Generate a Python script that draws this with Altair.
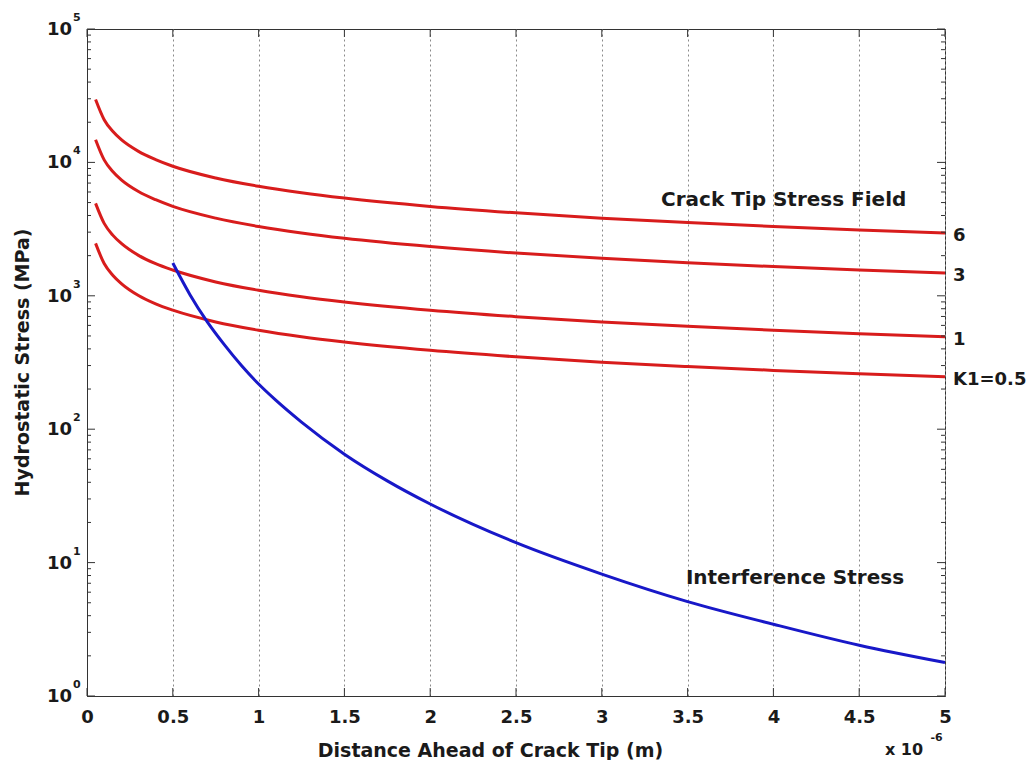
import altair as alt
import pandas as pd

# ---- data ----
x_pts = [0.05, 0.1, 0.15, 0.2, 0.3, 0.4, 0.5, 0.75, 1, 1.25, 1.5, 2, 2.5, 3, 3.5, 4, 4.5, 5]
k6 = [29600, 20900, 17100, 14800, 12100, 10500, 9360, 7640, 6620, 5920, 5400, 4680, 4190, 3820, 3540, 3310, 3120, 2960]
k3 = [14800, 10450, 8550, 7400, 6050, 5250, 4680, 3820, 3310, 2960, 2700, 2340, 2090, 1910, 1770, 1655, 1560, 1480]
k1 = [4930, 3490, 2850, 2470, 2010, 1740, 1560, 1270, 1100, 985, 900, 780, 698, 637, 590, 552, 520, 493]
k05 = [2470, 1745, 1425, 1235, 1005, 870, 780, 637, 552, 493, 450, 390, 349, 318, 295, 276, 260, 247]

blue_x = [0.5, 0.6, 0.7, 0.8, 0.9, 1.0, 1.1, 1.25, 1.5, 1.75, 2.0, 2.5, 3.0, 3.5, 4.0, 4.5, 5.0]
blue_v = [1760, 1020, 640, 430, 300, 218, 165, 113, 65, 41, 27.5, 14.1, 8.2, 5.1, 3.45, 2.4, 1.78]

curve_names = ["6", "3", "1", "K1=0.5"]
curve_vals = [k6, k3, k1, k05]

x_ticks = [0, 0.5, 1, 1.5, 2, 2.5, 3, 3.5, 4, 4.5, 5]
y_major = [1, 10, 100, 1000, 10000, 100000]
y_exps = ["0", "1", "2", "3", "4", "5"]
y_minor = [m * 10 ** e for e in range(0, 5) for m in range(2, 10)]

# ---- tables ----
rows = []
for name, vals in zip(curve_names, curve_vals):
    for xv, v in zip(x_pts, vals):
        rows.append({"x": xv, "v": v, "K": name})
red_df = pd.DataFrame(rows)
blue_df = pd.DataFrame({"x": blue_x, "v": blue_v})
end_df = pd.DataFrame({"x": [x_pts[-1]] * 4, "v": [c[-1] for c in curve_vals], "t": curve_names})
ymaj_df = pd.DataFrame({"v": y_major, "e": y_exps, "x": [0] * len(y_major)})
ymin_df = pd.DataFrame({"v": y_minor})
xt_df = pd.DataFrame({"x": x_ticks})
ann_df = pd.DataFrame({"x": [3.345, 3.49], "v": [5200, 7.6],
                       "t": ["Crack Tip Stress Field", "Interference Stress"]})
mult_df = pd.DataFrame({"x": [4.65], "s": [4.915]})

W, H = 858, 667
FONT = "DejaVu Sans"
TXT = "#1a1a1a"
xs = alt.Scale(domain=[0, 5], nice=False, zero=False)
ys = alt.Scale(type="log", domain=[1, 100000], nice=False)

x_axis = alt.Axis(values=x_ticks, format="~g", grid=True, gridDash=[2, 3],
                  gridColor="#8a8a8a", gridWidth=1, ticks=False, labelFlush=False,
                  labelFont=FONT, labelFontSize=18, labelFontWeight="bold",
                  labelColor=TXT, labelPadding=12, domainColor="#333",
                  title="Distance Ahead of Crack Tip (m)", titleFont=FONT,
                  titleFontSize=19, titleFontWeight="bold", titleColor=TXT,
                  titleX=403, titleY=54, titleBaseline="middle")
y_axis = alt.Axis(labels=False, ticks=False, grid=False, domainColor="#333",
                  title="Hydrostatic Stress (MPa)", titleFont=FONT,
                  titleFontSize=19, titleFontWeight="bold", titleColor=TXT,
                  titleX=-65, titleY=333, titleBaseline="middle", titleAngle=-90)


def X(f):
    return alt.X(f"{f}:Q", scale=xs, axis=x_axis)


def Y(f):
    return alt.Y(f"{f}:Q", scale=ys, axis=y_axis)


red = alt.Chart(red_df).mark_line(color="#d81c1c", strokeWidth=3, interpolate="monotone").encode(
    x=X("x"), y=Y("v"), detail="K:N")
blue = alt.Chart(blue_df).mark_line(color="#1818c8", strokeWidth=3, interpolate="monotone").encode(
    x=X("x"), y=Y("v"))

layers = [red, blue]
# inward ticks (left/right for y, bottom/top for x)
for df, ln in [(ymaj_df, 8), (ymin_df, 4)]:
    layers.append(alt.Chart(df).mark_rule(color="#333", strokeWidth=1).encode(
        y=Y("v"), x=alt.value(0), x2=alt.value(ln)))
    layers.append(alt.Chart(df).mark_rule(color="#333", strokeWidth=1).encode(
        y=Y("v"), x=alt.value(W), x2=alt.value(W - ln)))
layers.append(alt.Chart(xt_df).mark_rule(color="#333", strokeWidth=1).encode(
    x=X("x"), y=alt.value(H), y2=alt.value(H - 8)))
layers.append(alt.Chart(xt_df).mark_rule(color="#333", strokeWidth=1).encode(
    x=X("x"), y=alt.value(0), y2=alt.value(8)))

# y tick labels 10^n
layers.append(alt.Chart(ymaj_df).mark_text(font=FONT, fontSize=18, fontWeight="bold", color=TXT,
                                           align="right", baseline="middle", dx=-15, dy=1).encode(
    x=X("x"), y=Y("v"), text=alt.value("10")))
layers.append(alt.Chart(ymaj_df).mark_text(font=FONT, fontSize=11, fontWeight="bold", color=TXT,
                                           align="left", baseline="middle", dx=-14, dy=-11).encode(
    x=X("x"), y=Y("v"), text="e:N"))

# curve end labels
layers.append(alt.Chart(end_df).mark_text(font=FONT, fontSize=18, fontWeight="bold", color=TXT,
                                          align="left", baseline="middle", dx=8, dy=3).encode(
    x=X("x"), y=Y("v"), text="t:N"))
# annotations
layers.append(alt.Chart(ann_df).mark_text(font=FONT, fontSize=20, fontWeight="bold", color=TXT,
                                          align="left", baseline="middle").encode(
    x=X("x"), y=Y("v"), text="t:N"))
# x 10^-6 multiplier
layers.append(alt.Chart(mult_df).mark_text(font=FONT, fontSize=16, fontWeight="bold", color=TXT,
                                           align="left", baseline="middle").encode(
    x=X("x"), y=alt.value(H + 54), text=alt.value("x 10")))
layers.append(alt.Chart(mult_df).mark_text(font=FONT, fontSize=11, fontWeight="bold", color=TXT,
                                           align="left", baseline="middle").encode(
    x=X("s"), y=alt.value(H + 42), text=alt.value("-6")))

chart = alt.layer(*layers).properties(
    width=W, height=H,
    autosize=alt.AutoSizeParams(type="none"),
    padding={"left": 79, "top": 21, "right": 81, "bottom": 64},
    background="white",
).configure_view(stroke="#333", strokeWidth=1)

chart.save("out.html", embed_options={"renderer": "svg", "actions": False})
